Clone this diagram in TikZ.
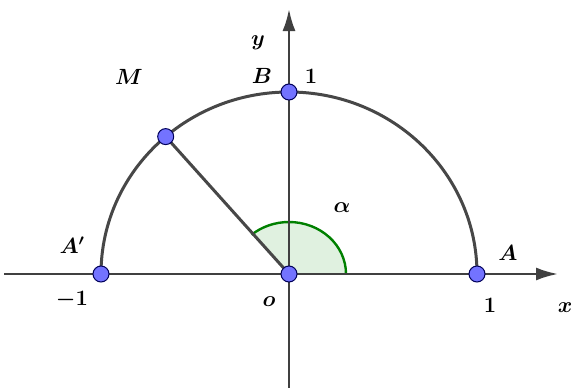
\RequirePackage{fix-cm}
\documentclass[tikz,border=0pt]{standalone}
\usetikzlibrary{arrows.meta,calc}
\begin{document}
\begin{tikzpicture}[x=1pt,y=-1pt,
  axis/.style={line width=2.4pt,draw=black!75,-{Latex[length=22pt,width=13pt]}},
  pt/.style={circle,fill=blue!55!white,draw=blue!35!black,line width=1pt,inner sep=0pt,minimum size=16pt},
  lbl/.style={font=\fontsize{22}{24}\selectfont\boldmath,inner sep=0pt},
  curve/.style={line width=3pt,draw=black!72}]
\useasboundingbox (0,0) rectangle (573,388);
\coordinate (O) at (289,274);
\coordinate (Mc) at (165.7,136.6);
% sector
\fill[green!55!black!12] (O) -- ($(O)+(57,0)$) arc[start angle=0,end angle=-131,x radius=57,y radius=52] -- cycle;
\draw[line width=2.4pt,draw=green!50!black] ($(O)+(57,0)$) arc[start angle=0,end angle=-131,x radius=57,y radius=52];
% axes
\coordinate (xs) at (4,274);
\coordinate (xe) at (558,274);
\coordinate (ys) at (289,388);
\coordinate (ye) at (289,9);
\draw[axis] (xs) -- (xe);
\draw[axis] (ys) -- (ye);
% semicircle
\draw[curve] ($(O)+(188,0)$) arc[start angle=0,end angle=-180,x radius=188,y radius=182];
\draw[curve] (O) -- (Mc);
% points
\node[pt] (o) at (O) {};
\node[pt] (A) at (477,274) {};
\node[pt] (Ap) at (101,274) {};
\node[pt] (B) at (289,92) {};
\node[pt] (M) at (Mc) {};
% labels
\node[lbl] (ly) at (258,43) {$y$};
\node[lbl] (lB) at (262,76) {$B$};
\node[lbl] (l1t) at (311,76) {$1$};
\node[lbl] (lM) at (129,77) {$M$};
\node[lbl] (lAp) at (72,245) {$A'$};
\node[lbl] (lA) at (508,253) {$A$};
\node[lbl] (lm1) at (72,300) {$-1$};
\node[lbl] (lo) at (269,302) {$o$};
\node[lbl] (l1r) at (490,305) {$1$};
\node[lbl] (lx) at (565,308) {$x$};
\node[lbl] (la) at (342,208) {$\alpha$};
\end{tikzpicture}
\end{document}
